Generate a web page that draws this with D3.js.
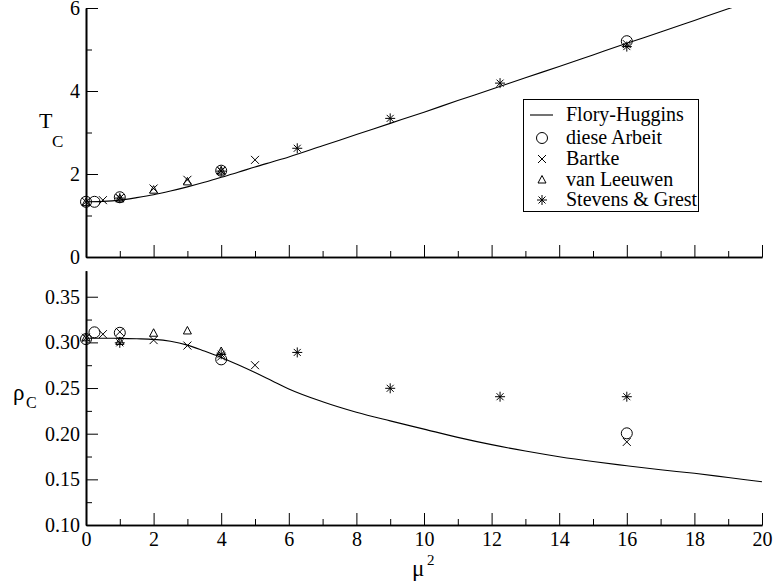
<!DOCTYPE html>
<html>
<head>
<meta charset="utf-8">
<script src="https://cdn.jsdelivr.net/npm/d3@7"></script>
<style>
  html, body { margin: 0; padding: 0; background: #fff; }
  svg { display: block; }
</style>
</head>
<body>
<svg id="chart" width="774" height="587"></svg>
<script>
// Flory-Huggins prediction sampled on a mu^2 grid
const fhMu2 = [0, 0.5, 1, 1.5, 2, 2.5, 3, 3.5, 4, 4.5, 5, 5.5, 6, 7, 8, 9, 10, 11, 12, 13, 14, 15, 16, 17, 18, 19, 20];
const fhTc  = [1.33, 1.34, 1.37, 1.43, 1.50, 1.59, 1.69, 1.80, 1.92, 2.04, 2.17, 2.29, 2.41, 2.68, 2.95, 3.22, 3.49, 3.77, 4.04, 4.32, 4.59, 4.87, 5.15, 5.42, 5.70, 5.98, 6.25];
const fhRho = [0.3045, 0.3045, 0.3044, 0.3040, 0.3033, 0.3012, 0.2970, 0.2905, 0.2835, 0.2755, 0.2670, 0.2580, 0.2490, 0.2350, 0.2235, 0.2140, 0.2050, 0.1960, 0.1880, 0.1810, 0.1748, 0.1695, 0.1649, 0.1605, 0.1566, 0.1520, 0.1474];

// diese Arbeit
const arbeitMu2 = [0, 0.25, 1, 4, 16];
const arbeitTc  = [1.33, 1.33, 1.44, 2.08, 5.20];
const arbeitRho = [0.3036, 0.311, 0.3105, 0.2814, 0.2004];

// Bartke
const bartkeMu2 = [0, 0.5, 1, 2, 3, 4, 5, 16];
const bartkeTc  = [1.33, 1.37, 1.42, 1.65, 1.86, 2.08, 2.34, 5.13];
const bartkeRho = [0.305, 0.309, 0.3115, 0.3025, 0.2965, 0.2845, 0.275, 0.191];

// van Leeuwen
const leeuwenMu2 = [0, 1, 2, 3, 4];
const leeuwenTc  = [1.31, 1.40, 1.61, 1.81, 2.07];
const leeuwenRho = [0.305, 0.301, 0.310, 0.3125, 0.290];

// Stevens & Grest
const sgMu2 = [1, 4, 6.25, 9, 12.25, 16];
const sgTc  = [1.42, 2.07, 2.62, 3.34, 4.19, 5.07];
const sgRho = [0.2995, 0.287, 0.289, 0.2497, 0.2405, 0.2405];

const legendLabels = ["Flory-Huggins", "diese Arbeit", "Bartke", "van Leeuwen", "Stevens & Grest"];
const xMajorTicks = [0, 2, 4, 6, 8, 10, 12, 14, 16, 18, 20];
const xMinorTicks = [1, 3, 5, 7, 9, 11, 13, 15, 17, 19];
const tcMajorTicks = [0, 2, 4, 6];
const tcMinorTicks = [1, 3, 5];
const rhoMajorTicks = [0.10, 0.15, 0.20, 0.25, 0.30, 0.35];
const rhoMinorTicks = [0.125, 0.175, 0.225, 0.275, 0.325];

const FONT = "\"Liberation Serif\"";

const svg = d3.select("#chart");

const x = d3.scaleLinear().domain([0, 20]).range([86, 762]);
const yTop = d3.scaleLinear().domain([0, 6]).range([257, 8]);
const yBot = d3.scaleLinear().domain([0.10, 0.3785]).range([525, 270.7]);

// clipping for each panel
const defs = svg.append("defs");
defs.append("clipPath").attr("id", "clipTop").append("rect")
  .attr("x", x(0)).attr("y", yTop(6)).attr("width", x(20) - x(0)).attr("height", yTop(0) - yTop(6));
defs.append("clipPath").attr("id", "clipBot").append("rect")
  .attr("x", x(0)).attr("y", yBot(0.3785)).attr("width", x(20) - x(0)).attr("height", yBot(0.10) - yBot(0.3785));

function styleAxis(g) {
  g.attr("font-family", null).attr("font-size", null);
  g.select(".domain").attr("stroke", "#000").attr("stroke-width", 1.6);
  g.selectAll(".tick line").attr("stroke", "#000").attr("stroke-width", 1);
  g.selectAll(".tick text").attr("fill", "#000")
    .style("font-family", FONT).style("font-size", "20px");
}

function drawXAxis(yPos, withLabels) {
  const minor = d3.axisBottom(x).tickValues(xMinorTicks).tickSize(-6).tickSizeOuter(0).tickFormat("");
  svg.append("g").attr("transform", `translate(0,${yPos})`).call(minor).call(styleAxis);
  const major = d3.axisBottom(x).tickValues(xMajorTicks).tickSize(-12).tickSizeOuter(0).tickPadding(7)
    .tickFormat(withLabels ? d3.format("d") : "");
  svg.append("g").attr("transform", `translate(0,${yPos})`).call(major).call(styleAxis);
}

function drawYAxis(scale, majors, minors, fmt) {
  const minor = d3.axisLeft(scale).tickValues(minors).tickSize(-6).tickSizeOuter(0).tickFormat("");
  svg.append("g").attr("transform", `translate(${x(0)},0)`).call(minor).call(styleAxis);
  const major = d3.axisLeft(scale).tickValues(majors).tickSize(-12).tickSizeOuter(0).tickPadding(6).tickFormat(fmt);
  svg.append("g").attr("transform", `translate(${x(0)},0)`).call(major).call(styleAxis);
}

drawXAxis(yTop(0), false);
drawXAxis(yBot(0.10), true);
drawYAxis(yTop, tcMajorTicks, tcMinorTicks, d3.format("d"));
drawYAxis(yBot, rhoMajorTicks, rhoMinorTicks, d3.format(".2f"));

function label(px, py, size) {
  return svg.append("text").attr("x", px).attr("y", py)
    .style("font-family", FONT).style("font-size", size + "px").attr("fill", "#000");
}

// axis titles
const tLab = label(39, 128, 22);
tLab.append("tspan").text("T");
tLab.append("tspan").attr("x", 52).attr("y", 147).style("font-size", "17px").text("C");

const rLab = label(13, 400, 23);
rLab.append("tspan").text("ρ");
rLab.append("tspan").attr("x", 26).attr("y", 408).style("font-size", "16px").text("C");

const mLab = label(412, 576, 23);
mLab.append("tspan").text("μ");
mLab.append("tspan").attr("x", 427).attr("y", 565).style("font-size", "15px").text("2");

// Flory-Huggins curves
const zipFH = vals => fhMu2.map((m, i) => [m, vals[i]]);
svg.append("path").attr("clip-path", "url(#clipTop)")
  .datum(zipFH(fhTc))
  .attr("fill", "none").attr("stroke", "#000").attr("stroke-width", 1.1)
  .attr("d", d3.line().x(d => x(d[0])).y(d => yTop(d[1])).curve(d3.curveMonotoneX));
svg.append("path").attr("clip-path", "url(#clipBot)")
  .datum(zipFH(fhRho))
  .attr("fill", "none").attr("stroke", "#000").attr("stroke-width", 1.1)
  .attr("d", d3.line().x(d => x(d[0])).y(d => yBot(d[1])).curve(d3.curveMonotoneX));

// marker shapes
function marker(g, kind, cx, cy) {
  const s = g.append("g").attr("transform", `translate(${cx},${cy})`)
    .attr("fill", "none").attr("stroke", "#000").attr("stroke-width", 1);
  if (kind === "circle") {
    s.append("circle").attr("r", 5.5);
  } else if (kind === "cross") {
    s.append("path").attr("d", "M-4,-4L4,4M-4,4L4,-4");
  } else if (kind === "triangle") {
    s.append("path").attr("d", "M0,-4.5L4,3L-4,3Z");
  } else if (kind === "star") {
    s.append("path").attr("d", "M0,-5V5M-5,0H5M-3.5,-3.5L3.5,3.5M-3.5,3.5L3.5,-3.5");
  }
}

const seriesDefs = [
  { kind: "circle",   mu2: arbeitMu2,  tc: arbeitTc,  rho: arbeitRho },
  { kind: "cross",    mu2: bartkeMu2,  tc: bartkeTc,  rho: bartkeRho },
  { kind: "triangle", mu2: leeuwenMu2, tc: leeuwenTc, rho: leeuwenRho },
  { kind: "star",     mu2: sgMu2,      tc: sgTc,      rho: sgRho }
];

const pts = svg.append("g");
seriesDefs.forEach(s => {
  s.mu2.forEach((m, i) => {
    marker(pts, s.kind, x(m), yTop(s.tc[i]));
    marker(pts, s.kind, x(m), yBot(s.rho[i]));
  });
});

// legend
const lg = svg.append("g");
lg.append("rect").attr("x", 523.5).attr("y", 99.5).attr("width", 175).attr("height", 112)
  .attr("fill", "#fff").attr("stroke", "#000").attr("stroke-width", 1);
const rowBase = [121, 144, 165, 186, 206];
lg.append("line").attr("x1", 530).attr("x2", 553).attr("y1", 115).attr("y2", 115)
  .attr("stroke", "#000").attr("stroke-width", 1.1);
["circle", "cross", "triangle", "star"].forEach((k, i) => {
  marker(lg, k, 542, rowBase[i + 1] - 6);
});
legendLabels.forEach((t, i) => {
  lg.append("text").attr("x", 566).attr("y", rowBase[i])
    .style("font-family", FONT).style("font-size", "20px").attr("fill", "#000").text(t);
});
</script>
</body>
</html>
